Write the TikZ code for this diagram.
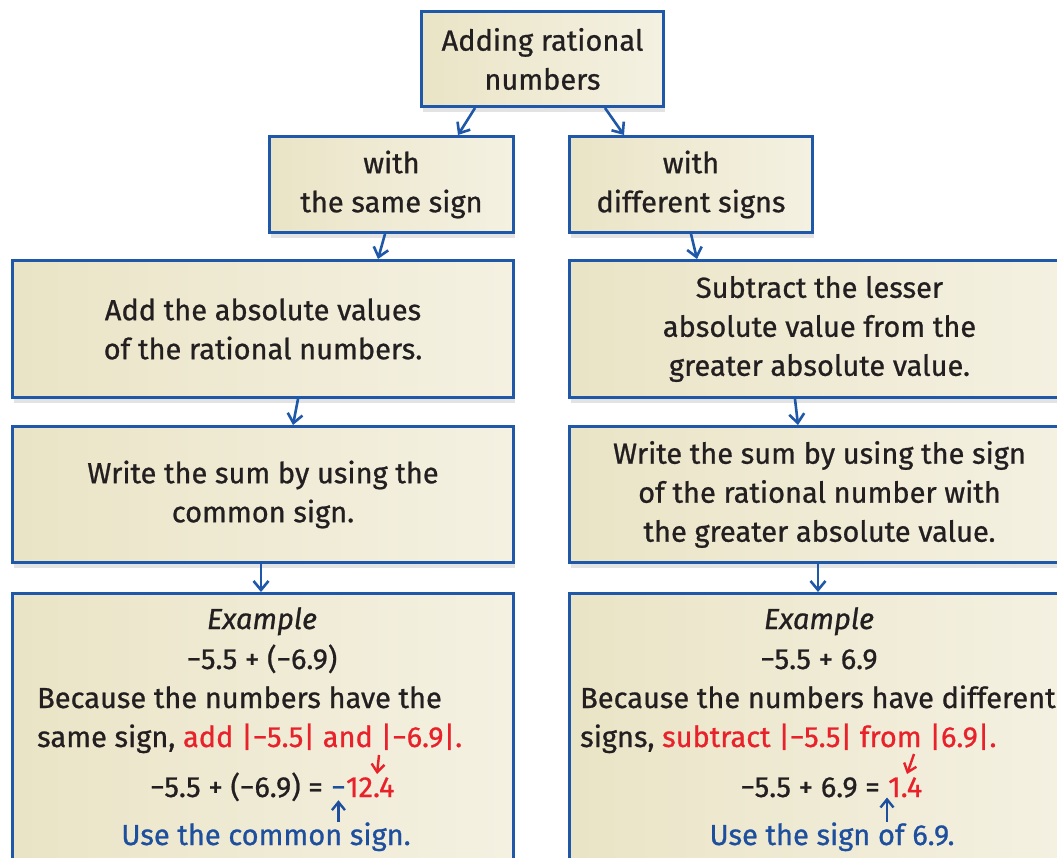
\documentclass[tikz,border=0pt]{standalone}
\usepackage{fontspec}
\setmainfont{Fira Sans}[FakeBold=0.8]
\usetikzlibrary{arrows.meta,shadows}
\definecolor{bblue}{HTML}{1F58A8}
\definecolor{tred}{HTML}{E8212B}
\definecolor{tblue}{HTML}{1D4F9E}
\definecolor{tblack}{HTML}{231F20}
\definecolor{fillA}{HTML}{EAE4C6}
\definecolor{fillB}{HTML}{F4F1E2}
\begin{document}
\begin{tikzpicture}[x=1pt,y=-1pt,
  box/.style={draw=bblue, line width=3pt, left color=fillA, right color=fillB,
    drop shadow={opacity=0.22, shadow xshift=1pt, shadow yshift=-5pt},
    anchor=north west, inner sep=0pt, align=center, text=tblack,
    font=\fontsize{29}{39}\selectfont},
  txt/.style={inner sep=0pt, text=tblack, font=\fontsize{29}{39}\selectfont},
  arr/.style={draw=bblue, line width=2.6pt, -{Straight Barb[length=9pt,width=15pt,line width=2.6pt]}},
  sarr/.style={line width=2.4pt, -{Straight Barb[length=8pt,width=13pt,line width=2.4pt]}}
]
\useasboundingbox (0,0) rectangle (1057,857);
\fill[white] (0,0) rectangle (1057,857);
\clip (0,0) rectangle (1057,857);

% boxes
\node[box, minimum width=242pt, minimum height=95pt] (top) at (420,10) {Adding rational\\numbers};
\node[box, minimum width=244pt, minimum height=96pt] (same) at (268,135) {with\\the same sign};
\node[box, minimum width=243pt, minimum height=96pt] (diff) at (568,135) {with\\different signs};
\node[box, minimum width=501pt, minimum height=137pt] (L2) at (11,259) {Add the absolute values\\of the rational numbers.};
\node[box, minimum width=500pt, minimum height=137pt] (R2) at (568,259) {Subtract the lesser\\absolute value from the\\greater absolute value.};
\node[box, minimum width=501pt, minimum height=136pt] (L3) at (11,425) {Write the sum by using the\\common sign.};
\node[box, minimum width=500pt, minimum height=136pt] (R3) at (568,425) {Write the sum by using the sign\\of the rational number with\\the greater absolute value.};
\node[box, minimum width=501pt, minimum height=320pt] (L4) at (11,592) {};
\node[box, minimum width=500pt, minimum height=320pt] (R4) at (568,592) {};

% main arrows
\draw[arr] (475,0 |- top.south) -- (458,0 |- same.north);
\draw[arr] (605,0 |- top.south) -- (624,0 |- diff.north);
\draw[arr] (385,0 |- same.south) -- (378,0 |- L2.north);
\draw[arr] (691,0 |- diff.south) -- (697,0 |- R2.north);
\draw[arr] (298,0 |- L2.south) -- (293,0 |- L3.north);
\draw[arr] (795,0 |- R2.south) -- (798,0 |- R3.north);
\draw[arr] (261,0 |- L3.south) -- (261,0 |- L4.north);
\draw[arr] (818,0 |- R3.south) -- (818,0 |- R4.north);

% left example
\node[txt, anchor=base] (lex) at (262,629) {\itshape Example};
\node[txt, anchor=base] (lexp) at (262,669) {−5.5 + (−6.9)};
\node[txt, anchor=base west] (lb1) at (37,708) {Because the numbers have the};
\node[txt, anchor=base west] (lb2) at (37,747) {same sign, \textcolor{tred}{add |−5.5| and |−6.9|.}};
\node[txt, anchor=base east] (leq) at (323,797) {−5.5 + (−6.9) =};
\node[txt, anchor=base west, text=tblue] (lmin) at (331,797) {−};
\node[txt, anchor=base west, text=tred] (lnum) at (lmin.base east) {12.4};
\node[txt, anchor=base, text=tblue] (luse) at (266,845) {Use the common sign.};
\coordinate (lra) at (379,755);
\coordinate (lrt) at (377,774);
\coordinate (lba) at (lmin.south |- 0,822);
\draw[sarr, tred] (lra) -- (lrt);
\draw[sarr, tblue] (lba) -- ([yshift=-3pt]lmin.south);

% right example
\node[txt, anchor=base] (rex) at (819,629) {\itshape Example};
\node[txt, anchor=base] (rexp) at (819,669) {−5.5 + 6.9};
\node[txt, anchor=base west] (rb1) at (580,708) {Because the numbers have different};
\node[txt, anchor=base west] (rb2) at (580,747) {signs, \textcolor{tred}{subtract |−5.5| from |6.9|.}};
\node[txt, anchor=base east] (req) at (880,797) {−5.5 + 6.9 =};
\node[txt, anchor=base west, text=tred] (rnum) at (888,797) {1.4};
\node[txt, anchor=base, text=tblue] (ruse) at (832,845) {Use the sign of 6.9.};
\coordinate (rra) at (914,754);
\coordinate (rrt) at (907,774);
\coordinate (rba) at (887,822);
\draw[sarr, tred] (rra) -- (rrt);
\draw[sarr, tblue] (rba) -- (887,0 |- rnum.south);
\end{tikzpicture}
\end{document}
